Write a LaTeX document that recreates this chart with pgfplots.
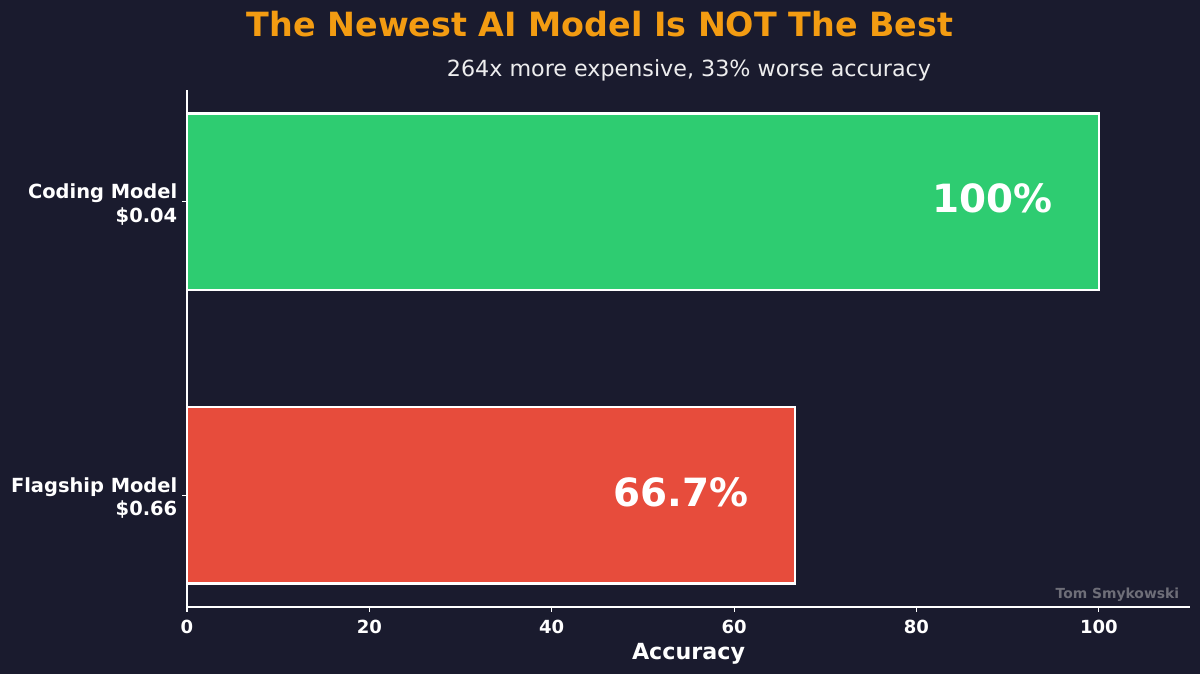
\documentclass[border=0pt]{standalone}
\usepackage{pgfplots}
\pgfplotsset{compat=1.18}
\usepackage{fontspec}
\setmainfont{DejaVu Sans}
\definecolor{bg}{HTML}{1A1B2E}
\definecolor{titleorange}{HTML}{F39C12}
\definecolor{goodgreen}{HTML}{2ECC71}
\definecolor{badred}{HTML}{E74C3C}
\definecolor{wm}{HTML}{6E6E78}
\begin{document}
\begin{tikzpicture}[x=0.72bp,y=0.72bp]
\fill[bg] (0,0) rectangle (1200,674);
\node[anchor=base, text=titleorange, font=\fontsize{24bp}{28bp}\selectfont\bfseries] at (600,637) {The Newest AI Model Is NOT The Best};
\node[anchor=base, text=white!92!bg, font=\fontsize{16bp}{19bp}\selectfont] at (689,597) {264x more expensive, 33\% worse accuracy};
\begin{axis}[
  at={(134.64bp,48.24bp)}, anchor=south west, scale only axis,
  width=722.16bp, height=372.24bp,
  xmin=0, xmax=110, ymin=-0.38, ymax=1.38,
  xbar, bar width=0.6, bar shift=0pt,
  clip=false,
  axis x line*=bottom, axis y line*=left,
  axis line style={draw=white, line width=0.8bp, -},
  xtick={0,20,40,60,80,100},
  ytick={0,1},
  yticklabels={{Flagship Model\\\$0.66},{Coding Model\\\$0.04}},
  tick align=outside, major tick length=3.5bp,
  tick style={draw=white, line width=0.8bp},
  /pgf/number format/assume math mode=true,
  xticklabel style={text=white, font=\fontsize{13bp}{15.6bp}\selectfont\bfseries, yshift=-2.5bp},
  yticklabel style={text=white, align=right, font=\fontsize{14bp}{16.8bp}\selectfont\bfseries, yshift=-2bp},
  xlabel={Accuracy},
  xlabel style={text=white, font=\fontsize{16bp}{19bp}\selectfont\bfseries, at={(axis description cs:0.5,0)}, anchor=base, yshift=-37.5bp},
]
\addplot[fill=goodgreen, draw=white, line width=1.6bp] coordinates {(100,1)};
\addplot[fill=badred, draw=white, line width=1.6bp] coordinates {(66.7,0)};
\node[anchor=east, text=white, font=\fontsize{28bp}{33bp}\selectfont\bfseries, xshift=2.9bp, yshift=2.5bp] at (axis cs:95,1) {100\%};
\node[anchor=east, text=white, font=\fontsize{28bp}{33bp}\selectfont\bfseries, xshift=2.9bp, yshift=2.5bp] at (axis cs:61.7,0) {66.7\%};
\end{axis}
\node[anchor=base east, text=wm, font=\fontsize{10bp}{12bp}\selectfont\bfseries] at (1184,75) {Tom Smykowski};
\end{tikzpicture}
\end{document}
